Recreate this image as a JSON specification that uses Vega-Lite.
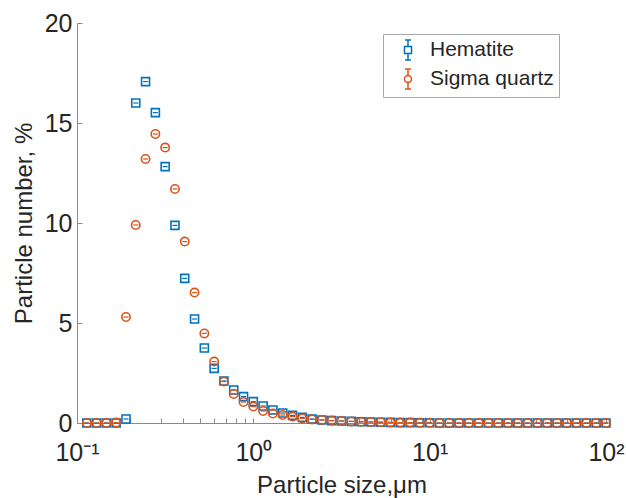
{
  "$schema": "https://vega.github.io/schema/vega-lite/v6.json",
  "width": 529,
  "height": 400,
  "autosize": "none",
  "padding": {"left": 77, "top": 23, "right": 20, "bottom": 75},
  "background": "white",
  "config": {"view": {"stroke": null}, "font": "Liberation Sans"},
  "datasets": {
    "pts": [
      {"material": "Hematite", "size": 0.1136, "pct": 0},
      {"material": "Hematite", "size": 0.1292, "pct": 0},
      {"material": "Hematite", "size": 0.1468, "pct": 0},
      {"material": "Hematite", "size": 0.1668, "pct": 0},
      {"material": "Hematite", "size": 0.1896, "pct": 0.2},
      {"material": "Hematite", "size": 0.2154, "pct": 16.0},
      {"material": "Hematite", "size": 0.2448, "pct": 17.07},
      {"material": "Hematite", "size": 0.2783, "pct": 15.52},
      {"material": "Hematite", "size": 0.3162, "pct": 12.82},
      {"material": "Hematite", "size": 0.3594, "pct": 9.88},
      {"material": "Hematite", "size": 0.4084, "pct": 7.23},
      {"material": "Hematite", "size": 0.4642, "pct": 5.2},
      {"material": "Hematite", "size": 0.5275, "pct": 3.75},
      {"material": "Hematite", "size": 0.5995, "pct": 2.73},
      {"material": "Hematite", "size": 0.6813, "pct": 2.1},
      {"material": "Hematite", "size": 0.7743, "pct": 1.65},
      {"material": "Hematite", "size": 0.8799, "pct": 1.32},
      {"material": "Hematite", "size": 1.0, "pct": 1.07},
      {"material": "Hematite", "size": 1.1365, "pct": 0.85},
      {"material": "Hematite", "size": 1.2915, "pct": 0.65},
      {"material": "Hematite", "size": 1.4678, "pct": 0.5},
      {"material": "Hematite", "size": 1.6681, "pct": 0.38},
      {"material": "Hematite", "size": 1.8957, "pct": 0.28},
      {"material": "Hematite", "size": 2.1544, "pct": 0.2},
      {"material": "Hematite", "size": 2.4484, "pct": 0.15},
      {"material": "Hematite", "size": 2.7826, "pct": 0.12},
      {"material": "Hematite", "size": 3.1623, "pct": 0.1},
      {"material": "Hematite", "size": 3.5938, "pct": 0.08},
      {"material": "Hematite", "size": 4.0842, "pct": 0.06},
      {"material": "Hematite", "size": 4.6416, "pct": 0.05},
      {"material": "Hematite", "size": 5.2749, "pct": 0.04},
      {"material": "Hematite", "size": 5.9948, "pct": 0.03},
      {"material": "Hematite", "size": 6.8129, "pct": 0.02},
      {"material": "Hematite", "size": 7.7426, "pct": 0.02},
      {"material": "Hematite", "size": 8.7992, "pct": 0.01},
      {"material": "Hematite", "size": 10, "pct": 0.01},
      {"material": "Hematite", "size": 11.365, "pct": 0},
      {"material": "Hematite", "size": 12.915, "pct": 0},
      {"material": "Hematite", "size": 14.678, "pct": 0},
      {"material": "Hematite", "size": 16.681, "pct": 0},
      {"material": "Hematite", "size": 18.957, "pct": 0},
      {"material": "Hematite", "size": 21.544, "pct": 0},
      {"material": "Hematite", "size": 24.484, "pct": 0},
      {"material": "Hematite", "size": 27.826, "pct": 0},
      {"material": "Hematite", "size": 31.623, "pct": 0},
      {"material": "Hematite", "size": 35.938, "pct": 0},
      {"material": "Hematite", "size": 40.842, "pct": 0},
      {"material": "Hematite", "size": 46.416, "pct": 0},
      {"material": "Hematite", "size": 52.749, "pct": 0},
      {"material": "Hematite", "size": 59.948, "pct": 0},
      {"material": "Hematite", "size": 68.129, "pct": 0},
      {"material": "Hematite", "size": 77.426, "pct": 0},
      {"material": "Hematite", "size": 87.992, "pct": 0},
      {"material": "Hematite", "size": 100, "pct": 0},
      {"material": "Sigma quartz", "size": 0.1136, "pct": 0},
      {"material": "Sigma quartz", "size": 0.1292, "pct": 0},
      {"material": "Sigma quartz", "size": 0.1468, "pct": 0},
      {"material": "Sigma quartz", "size": 0.1668, "pct": 0.02},
      {"material": "Sigma quartz", "size": 0.1896, "pct": 5.3},
      {"material": "Sigma quartz", "size": 0.2154, "pct": 9.9},
      {"material": "Sigma quartz", "size": 0.2448, "pct": 13.2},
      {"material": "Sigma quartz", "size": 0.2783, "pct": 14.45},
      {"material": "Sigma quartz", "size": 0.3162, "pct": 13.77},
      {"material": "Sigma quartz", "size": 0.3594, "pct": 11.7},
      {"material": "Sigma quartz", "size": 0.4084, "pct": 9.07},
      {"material": "Sigma quartz", "size": 0.4642, "pct": 6.52},
      {"material": "Sigma quartz", "size": 0.5275, "pct": 4.48},
      {"material": "Sigma quartz", "size": 0.5995, "pct": 3.07},
      {"material": "Sigma quartz", "size": 0.6813, "pct": 2.07},
      {"material": "Sigma quartz", "size": 0.7743, "pct": 1.45},
      {"material": "Sigma quartz", "size": 0.8799, "pct": 1.05},
      {"material": "Sigma quartz", "size": 1.0, "pct": 0.82},
      {"material": "Sigma quartz", "size": 1.1365, "pct": 0.6},
      {"material": "Sigma quartz", "size": 1.2915, "pct": 0.47},
      {"material": "Sigma quartz", "size": 1.4678, "pct": 0.4},
      {"material": "Sigma quartz", "size": 1.6681, "pct": 0.32},
      {"material": "Sigma quartz", "size": 1.8957, "pct": 0.23},
      {"material": "Sigma quartz", "size": 2.1544, "pct": 0.18},
      {"material": "Sigma quartz", "size": 2.4484, "pct": 0.15},
      {"material": "Sigma quartz", "size": 2.7826, "pct": 0.12},
      {"material": "Sigma quartz", "size": 3.1623, "pct": 0.1},
      {"material": "Sigma quartz", "size": 3.5938, "pct": 0.08},
      {"material": "Sigma quartz", "size": 4.0842, "pct": 0.06},
      {"material": "Sigma quartz", "size": 4.6416, "pct": 0.05},
      {"material": "Sigma quartz", "size": 5.2749, "pct": 0.04},
      {"material": "Sigma quartz", "size": 5.9948, "pct": 0.03},
      {"material": "Sigma quartz", "size": 6.8129, "pct": 0.02},
      {"material": "Sigma quartz", "size": 7.7426, "pct": 0.02},
      {"material": "Sigma quartz", "size": 8.7992, "pct": 0.01},
      {"material": "Sigma quartz", "size": 10, "pct": 0.01},
      {"material": "Sigma quartz", "size": 11.365, "pct": 0},
      {"material": "Sigma quartz", "size": 12.915, "pct": 0},
      {"material": "Sigma quartz", "size": 14.678, "pct": 0},
      {"material": "Sigma quartz", "size": 16.681, "pct": 0},
      {"material": "Sigma quartz", "size": 18.957, "pct": 0},
      {"material": "Sigma quartz", "size": 21.544, "pct": 0},
      {"material": "Sigma quartz", "size": 24.484, "pct": 0},
      {"material": "Sigma quartz", "size": 27.826, "pct": 0},
      {"material": "Sigma quartz", "size": 31.623, "pct": 0},
      {"material": "Sigma quartz", "size": 35.938, "pct": 0},
      {"material": "Sigma quartz", "size": 40.842, "pct": 0},
      {"material": "Sigma quartz", "size": 46.416, "pct": 0},
      {"material": "Sigma quartz", "size": 52.749, "pct": 0},
      {"material": "Sigma quartz", "size": 59.948, "pct": 0},
      {"material": "Sigma quartz", "size": 68.129, "pct": 0},
      {"material": "Sigma quartz", "size": 77.426, "pct": 0},
      {"material": "Sigma quartz", "size": 87.992, "pct": 0},
      {"material": "Sigma quartz", "size": 100, "pct": 0}
    ]
  },
  "data": {"name": "pts"},
  "encoding": {
    "x": {
      "field": "size",
      "type": "quantitative",
      "scale": {"type": "log", "domain": [0.1, 100], "nice": false},
      "axis": {
        "values": [0.1, 0.2, 0.3, 0.4, 0.5, 0.6, 0.7, 0.8, 0.9, 1, 2, 3, 4, 5, 6, 7, 8, 9, 10, 20, 30, 40, 50, 60, 70, 80, 90, 100],
        "labelExpr": "datum.value == 0.1 ? '10⁻¹' : datum.value == 1 ? '10⁰' : datum.value == 10 ? '10¹' : datum.value == 100 ? '10²' : ''",
        "labelOverlap": false,
        "labelFlush": false,
        "grid": false,
        "tickSize": -5,
        "labelPadding": 22,
        "domainColor": "#8a8a8a",
        "tickColor": "#8a8a8a",
        "labelColor": "#262626",
        "labelFontSize": 25,
        "title": "Particle size,μm",
        "titleFontSize": 24,
        "titleFontWeight": "normal",
        "titleColor": "#262626",
        "titleBaseline": "alphabetic",
        "titleY": 69
      }
    },
    "y": {
      "field": "pct",
      "type": "quantitative",
      "scale": {"domain": [0, 20], "nice": false},
      "axis": {
        "values": [0, 5, 10, 15, 20],
        "grid": false,
        "tickSize": -5,
        "labelPadding": 10,
        "domainColor": "#8a8a8a",
        "tickColor": "#8a8a8a",
        "labelColor": "#262626",
        "labelFontSize": 25,
        "title": "Particle number, %",
        "titleFontSize": 24,
        "titleFontWeight": "normal",
        "titleColor": "#262626",
        "titleX": -41
      }
    }
  },
  "layer": [
    {
      "transform": [{"filter": "datum.material == 'Hematite'"}],
      "mark": {"type": "point", "shape": "square", "filled": false, "color": "#0072BD", "strokeWidth": 1.6, "size": 64, "opacity": 1}
    },
    {
      "transform": [{"filter": "datum.material == 'Hematite'"}],
      "mark": {"type": "tick", "orient": "horizontal", "color": "#0072BD", "size": 5, "thickness": 1.2, "opacity": 1}
    },
    {
      "transform": [{"filter": "datum.material == 'Sigma quartz'"}],
      "mark": {"type": "point", "shape": "circle", "filled": false, "color": "#D95319", "strokeWidth": 1.6, "size": 70, "opacity": 1}
    },
    {
      "transform": [{"filter": "datum.material == 'Sigma quartz'"}],
      "mark": {"type": "tick", "orient": "horizontal", "color": "#D95319", "size": 5, "thickness": 1.2, "opacity": 1}
    },
    {
      "transform": [{"filter": "datum.pct > 100"}],
      "mark": {"type": "point", "filled": false, "strokeWidth": 1.5, "opacity": 1},
      "encoding": {
        "color": {
          "field": "material",
          "type": "nominal",
          "scale": {"domain": ["Hematite", "Sigma quartz"], "range": ["#0072BD", "#D95319"]},
          "legend": {
            "orient": "none", "legendX": 306, "legendY": 11, "title": null, "padding": 5,
            "strokeColor": "#a8a8a8", "fillColor": "white", "labelFontSize": 21, "labelColor": "#262626",
            "symbolSize": 400, "symbolStrokeWidth": 1.5, "symbolOffset": 9, "labelOffset": 11, "rowPadding": 3
          }
        },
        "shape": {
          "field": "material",
          "type": "nominal",
          "scale": {
            "domain": ["Hematite", "Sigma quartz"],
            "range": [
              "M-0.3,-1H0.3M0,-1V-0.35M0,0.35V1M-0.3,1H0.3M-0.35,-0.35H0.35V0.35H-0.35Z",
              "M-0.3,-1H0.3M0,-1V-0.35M0,0.35V1M-0.3,1H0.3M0.35,0A0.35,0.35 0 1 1 -0.35,0A0.35,0.35 0 1 1 0.35,0Z"
            ]
          },
          "legend": {
            "orient": "none", "legendX": 306, "legendY": 11, "title": null, "padding": 5,
            "strokeColor": "#a8a8a8", "fillColor": "white", "labelFontSize": 21, "labelColor": "#262626",
            "symbolSize": 400, "symbolStrokeWidth": 1.5, "symbolOffset": 9, "labelOffset": 11, "rowPadding": 3
          }
        }
      }
    }
  ]
}
